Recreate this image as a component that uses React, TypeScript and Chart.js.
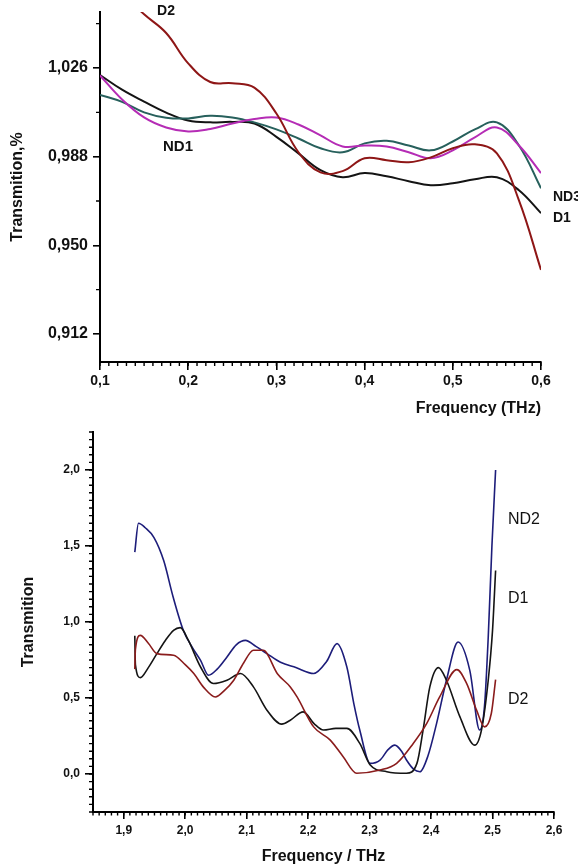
import React, { useEffect, useRef } from 'react';
import { Chart, registerables } from 'chart.js';
Chart.register(...registerables);

const FONT = '"Liberation Sans", Arial, Helvetica, sans-serif';

// ---------- Top chart data ----------
const topFreq = [0.1, 0.125, 0.15, 0.175, 0.2, 0.225, 0.25, 0.275, 0.3, 0.325, 0.35, 0.375, 0.4, 0.425, 0.45, 0.475, 0.5, 0.525, 0.55, 0.575, 0.6];
const topD1 = [1.023, 1.0167, 1.0116, 1.0069, 1.0035, 1.0027, 1.0029, 1.0022, 0.9965, 0.9894, 0.9822, 0.9792, 0.981, 0.9796, 0.9775, 0.9758, 0.9766, 0.9783, 0.9792, 0.9736, 0.9638];
const topND3 = [1.0145, 1.0115, 1.007, 1.0047, 1.0044, 1.0055, 1.0048, 1.0027, 0.9997, 0.9958, 0.9916, 0.9899, 0.9937, 0.9948, 0.9928, 0.9907, 0.9945, 0.9997, 1.0027, 0.9928, 0.9745];
const topND1 = [1.0228, 1.0125, 1.0048, 1.0005, 0.9988, 0.9999, 1.0022, 1.0041, 1.0048, 1.0018, 0.9971, 0.9924, 0.9928, 0.9924, 0.9899, 0.9873, 0.9907, 0.9963, 1.0005, 0.9928, 0.981];
const topD2 = [1.066, 1.058, 1.049, 1.041, 1.028, 1.02, 1.0195, 1.0176, 1.0065, 0.9899, 0.9813, 0.9818, 0.9873, 0.9865, 0.9856, 0.9877, 0.9916, 0.9933, 0.9894, 0.9693, 0.9395];
const topYTicks = [0.912, 0.95, 0.988, 1.026];
const topXTicks = [0.1, 0.2, 0.3, 0.4, 0.5, 0.6];

// ---------- Bottom chart data ----------
const botND2Freq = [1.918, 1.924, 1.935, 1.949, 1.965, 1.98, 1.997, 2.012, 2.025, 2.038, 2.052, 2.068, 2.083, 2.098, 2.115, 2.133, 2.155, 2.18, 2.209, 2.23, 2.247, 2.263, 2.275, 2.284, 2.301, 2.317, 2.33, 2.341, 2.352, 2.36, 2.372, 2.382, 2.395, 2.409, 2.425, 2.444, 2.463, 2.479, 2.487, 2.493, 2.499, 2.505];
const botND2 = [1.46, 1.65, 1.62, 1.557, 1.404, 1.17, 0.945, 0.83, 0.748, 0.65, 0.69, 0.77, 0.85, 0.879, 0.84, 0.792, 0.735, 0.7, 0.661, 0.74, 0.858, 0.704, 0.45, 0.289, 0.07, 0.092, 0.16, 0.19, 0.15, 0.092, 0.03, 0.015, 0.12, 0.333, 0.617, 0.868, 0.682, 0.289, 0.45, 0.9, 1.5, 2.0];
const botD1Freq = [1.918, 1.919, 1.927, 1.94, 1.954, 1.968, 1.981, 1.992, 2.005, 2.025, 2.046, 2.068, 2.09, 2.111, 2.133, 2.157, 2.171, 2.192, 2.21, 2.225, 2.245, 2.263, 2.284, 2.301, 2.328, 2.36, 2.377, 2.387, 2.398, 2.412, 2.425, 2.447, 2.471, 2.482, 2.493, 2.5, 2.505];
const botD1 = [0.91, 0.72, 0.634, 0.7, 0.792, 0.88, 0.945, 0.963, 0.88, 0.704, 0.595, 0.617, 0.661, 0.573, 0.42, 0.328, 0.354, 0.409, 0.33, 0.289, 0.3, 0.3, 0.201, 0.059, 0.015, 0.005, 0.07, 0.289, 0.573, 0.7, 0.617, 0.376, 0.19, 0.289, 0.617, 0.945, 1.339];
const botD2Freq = [1.918, 1.919, 1.927, 1.94, 1.954, 1.981, 2.0, 2.014, 2.03, 2.049, 2.064, 2.079, 2.095, 2.111, 2.127, 2.15, 2.171, 2.182, 2.209, 2.236, 2.257, 2.279, 2.317, 2.344, 2.371, 2.393, 2.414, 2.442, 2.458, 2.474, 2.487, 2.498, 2.505];
const botD2 = [0.69, 0.82, 0.912, 0.86, 0.792, 0.781, 0.72, 0.661, 0.57, 0.507, 0.55, 0.617, 0.73, 0.814, 0.814, 0.66, 0.573, 0.507, 0.31, 0.223, 0.114, 0.005, 0.026, 0.07, 0.201, 0.333, 0.507, 0.687, 0.595, 0.42, 0.31, 0.398, 0.621];
const botYTicks = [0, 0.5, 1.0, 1.5, 2.0];
const botXTicks = [1.9, 2.0, 2.1, 2.2, 2.3, 2.4, 2.5, 2.6];

const comma = (v: number, d: number) => v.toFixed(d).replace('.', ',');

type Label = { text: string; x: number; y: number; align: CanvasTextAlign; font: string };

function makeDecor(cfg: {
  xMinor: [number, number, number];
  yMinor: [number, number, number];
  xLen: number;
  yLen: number;
  width: number;
  labels: Label[];
}) {
  return {
    id: 'decor',
    afterDraw(chart: any) {
      const ctx = chart.ctx as CanvasRenderingContext2D;
      const xs = chart.scales.x;
      const ys = chart.scales.y;
      const ca = chart.chartArea;
      ctx.save();
      ctx.strokeStyle = '#000';
      ctx.lineWidth = cfg.width;
      ctx.beginPath();
      const [xa, xb, xst] = cfg.xMinor;
      const nx = Math.round((xb - xa) / xst);
      for (let i = 0; i <= nx; i++) {
        const px = xs.getPixelForValue(xa + i * xst);
        ctx.moveTo(px, ca.bottom);
        ctx.lineTo(px, ca.bottom + cfg.xLen);
      }
      const [ya, yb, yst] = cfg.yMinor;
      const ny = Math.round((yb - ya) / yst);
      for (let i = 0; i <= ny; i++) {
        const py = ys.getPixelForValue(ya + i * yst);
        ctx.moveTo(ca.left, py);
        ctx.lineTo(ca.left - cfg.yLen, py);
      }
      ctx.stroke();
      ctx.fillStyle = '#111';
      ctx.textBaseline = 'middle';
      for (const l of cfg.labels) {
        ctx.font = l.font;
        ctx.textAlign = l.align;
        ctx.fillText(l.text, xs.getPixelForValue(l.x), ys.getPixelForValue(l.y));
      }
      ctx.restore();
    },
  };
}

function pts(xs: number[], ys: number[]) {
  return xs.map((x, i) => ({ x, y: ys[i] }));
}

function TopChart() {
  const ref = useRef<HTMLCanvasElement>(null);
  useEffect(() => {
    const ds = (label: string, data: number[], color: string) => ({
      label,
      data: pts(topFreq, data),
      borderColor: color,
      borderWidth: 2,
      pointRadius: 0,
      tension: 0.4,
      fill: false,
    });
    const chart = new Chart(ref.current!, {
      type: 'line',
      data: {
        datasets: [
          ds('D2', topD2, '#8e1616'),
          ds('ND1', topND1, '#b52cb5'),
          ds('ND3', topND3, '#27605c'),
          ds('D1', topD1, '#141414'),
        ],
      },
      options: {
        animation: false,
        responsive: false,
        layout: { padding: { top: 12, right: 37, left: 0, bottom: 0 } },
        plugins: { legend: { display: false }, tooltip: { enabled: false } },
        scales: {
          x: {
            type: 'linear',
            min: 0.1,
            max: 0.6,
            afterBuildTicks: (s: any) => { s.ticks = topXTicks.map((v) => ({ value: v })); },
            afterFit: (s: any) => { s.height = 63; s.paddingLeft = 0; s.paddingRight = 0; },
            grid: { drawOnChartArea: false, drawTicks: true, tickLength: 8, color: '#000', lineWidth: 1.6 },
            border: { display: true, color: '#000', width: 2 },
            ticks: {
              padding: 3,
              color: '#111',
              font: { family: FONT, size: 14, weight: 'bold' },
              callback: (v: any) => comma(Number(v), 1),
              maxRotation: 0,
            },
            title: {
              display: true,
              text: 'Frequency (THz)',
              align: 'end',
              color: '#111',
              font: { family: FONT, size: 16, weight: 'bold' },
              padding: { top: 0, bottom: 7 },
            },
          },
          y: {
            type: 'linear',
            min: 0.9,
            max: 1.05,
            afterBuildTicks: (s: any) => { s.ticks = topYTicks.map((v) => ({ value: v })); },
            afterFit: (s: any) => { s.width = 100; s.paddingTop = 0; s.paddingBottom = 0; },
            grid: { drawOnChartArea: false, drawTicks: true, tickLength: 7, color: '#000', lineWidth: 1.6 },
            border: { display: true, color: '#000', width: 2 },
            ticks: {
              padding: 5,
              color: '#111',
              font: { family: FONT, size: 16, weight: 'bold' },
              callback: (v: any) => comma(Number(v), 3),
            },
            title: {
              display: true,
              text: 'Transmition,%',
              color: '#111',
              font: { family: FONT, size: 16, weight: 'bold' },
              padding: { top: 8, bottom: 0 },
            },
          },
        },
      },
      plugins: [
        makeDecor({
          xMinor: [0.1, 0.6, 0.01],
          yMinor: [0.931, 1.045, 0.038],
          xLen: 4,
          yLen: 4,
          width: 1.4,
          labels: [
            { text: 'D2', x: 0.1748, y: 1.0505, align: 'center', font: `bold 14px ${FONT}` },
            { text: 'ND1', x: 0.1884, y: 0.9924, align: 'center', font: `bold 15px ${FONT}` },
            { text: 'ND3', x: 0.6136, y: 0.9706, align: 'left', font: `bold 14px ${FONT}` },
            { text: 'D1', x: 0.6136, y: 0.9617, align: 'left', font: `bold 14px ${FONT}` },
          ],
        }) as any,
      ],
    } as any);
    return () => chart.destroy();
  }, []);
  return <canvas ref={ref} width={578} height={425} style={{ display: 'block' }} />;
}

function BottomChart() {
  const ref = useRef<HTMLCanvasElement>(null);
  useEffect(() => {
    const ds = (label: string, xs: number[], ys: number[], color: string) => ({
      label,
      data: pts(xs, ys),
      borderColor: color,
      borderWidth: 1.6,
      pointRadius: 0,
      cubicInterpolationMode: 'monotone' as const,
      fill: false,
    });
    const chart = new Chart(ref.current!, {
      type: 'line',
      data: {
        datasets: [
          ds('D2', botD2Freq, botD2, '#8a1c1c'),
          ds('D1', botD1Freq, botD1, '#141414'),
          ds('ND2', botND2Freq, botND2, '#1d1d7a'),
        ],
      },
      options: {
        animation: false,
        responsive: false,
        layout: { padding: { top: 7, right: 24, left: 0, bottom: 0 } },
        plugins: { legend: { display: false }, tooltip: { enabled: false } },
        scales: {
          x: {
            type: 'linear',
            min: 1.85,
            max: 2.6,
            afterBuildTicks: (s: any) => { s.ticks = botXTicks.map((v) => ({ value: v })); },
            afterFit: (s: any) => { s.height = 56; s.paddingLeft = 0; s.paddingRight = 0; },
            grid: { drawOnChartArea: false, drawTicks: true, tickLength: 7, color: '#000', lineWidth: 1.6 },
            border: { display: true, color: '#000', width: 2 },
            ticks: {
              padding: 4,
              color: '#111',
              font: { family: FONT, size: 12, weight: 'bold' },
              callback: (v: any) => comma(Number(v), 1),
              maxRotation: 0,
            },
            title: {
              display: true,
              text: 'Frequency / THz',
              color: '#111',
              font: { family: FONT, size: 16, weight: 'bold' },
              padding: { top: 0, bottom: 2 },
            },
          },
          y: {
            type: 'linear',
            min: -0.25,
            max: 2.25,
            afterBuildTicks: (s: any) => { s.ticks = botYTicks.map((v) => ({ value: v })); },
            afterFit: (s: any) => { s.width = 93; s.paddingTop = 0; s.paddingBottom = 0; },
            grid: { drawOnChartArea: false, drawTicks: true, tickLength: 8, color: '#000', lineWidth: 1.6 },
            border: { display: true, color: '#000', width: 2 },
            ticks: {
              padding: 5,
              color: '#111',
              font: { family: FONT, size: 12, weight: 'bold' },
              callback: (v: any) => comma(Number(v), 1),
            },
            title: {
              display: true,
              text: 'Transmition',
              color: '#111',
              font: { family: FONT, size: 16, weight: 'bold' },
              padding: { top: 19, bottom: 0 },
            },
          },
        },
      },
      plugins: [
        makeDecor({
          xMinor: [1.85, 2.6, 0.01],
          yMinor: [-0.25, 2.25, 0.05],
          xLen: 3.5,
          yLen: 4,
          width: 1.4,
          labels: [
            { text: 'ND2', x: 2.525, y: 1.673, align: 'left', font: `16px ${FONT}` },
            { text: 'D1', x: 2.525, y: 1.155, align: 'left', font: `16px ${FONT}` },
            { text: 'D2', x: 2.525, y: 0.492, align: 'left', font: `16px ${FONT}` },
          ],
        }) as any,
      ],
    } as any);
    return () => chart.destroy();
  }, []);
  return <canvas ref={ref} width={578} height={443} style={{ display: 'block' }} />;
}

export default function App() {
  return (
    <div style={{ position: 'absolute', left: 0, top: 0, width: 578, height: 868, background: '#fff', overflow: 'hidden' }}>
      <TopChart />
      <BottomChart />
    </div>
  );
}
